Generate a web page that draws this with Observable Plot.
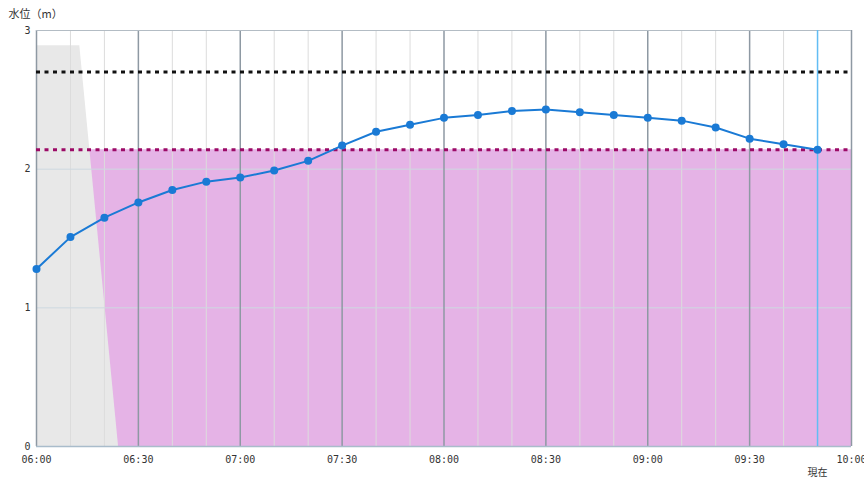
<!DOCTYPE html>
<html>
<head>
<meta charset="utf-8">
<script src="https://cdn.jsdelivr.net/npm/d3@7"></script>
<script src="https://cdn.jsdelivr.net/npm/@observablehq/plot@0.6"></script>
<style>
  html, body { margin: 0; padding: 0; background: #fff; overflow: hidden; }
</style>
</head>
<body>
<div id="chart"></div>
<script>
// ---- data ----
const times = ["06:00","06:10","06:20","06:30","06:40","06:50","07:00","07:10","07:20","07:30","07:40","07:50",
               "08:00","08:10","08:20","08:30","08:40","08:50","09:00","09:10","09:20","09:30","09:40","09:50"];
const levels = [1.28,1.51,1.65,1.76,1.85,1.91,1.94,1.99,2.06,2.17,2.27,2.32,
                2.37,2.39,2.42,2.43,2.41,2.39,2.37,2.35,2.30,2.22,2.18,2.14];
const xDomain = ["06:00","10:00"];
const yTicks = [0, 1, 2, 3];
const majorTickTimes = ["06:00","06:30","07:00","07:30","08:00","08:30","09:00","09:30","10:00"];
const minorTickTimes = ["06:10","06:20","06:40","06:50","07:10","07:20","07:40","07:50","08:10","08:20",
                        "08:40","08:50","09:10","09:20","09:40","09:50"];
const upperLevel = [2.70];   // black dotted line
const warnLevel = [2.14];    // magenta dotted line / pink zone
const grayTimes = ["06:00","06:12:45","06:24:10"];
const grayValues = [2.89, 2.89, 0];
const nowTime = ["09:50"];
const nowLabel = ["現在"];
const yLabel = "水位（m）";

// ---- helpers ----
const parse = s => new Date(`2024-01-01T${s.length === 5 ? s + ":00" : s}Z`);
const series = times.map((t, i) => ({t: parse(t), v: levels[i]}));
const grayData = grayTimes.map((t, i) => ({t: parse(t), v: grayValues[i]}));
const pinkData = warnLevel.map(v => ({x1: parse(xDomain[0]), x2: parse(xDomain[1]), v}));
const fmt = d3.utcFormat("%H:%M");
const mono = "'DejaVu Sans Mono', monospace";
const cjk = "'Noto Sans CJK JP', sans-serif";

const chart = Plot.plot({
  width: 864,
  height: 478,
  marginLeft: 36,
  marginRight: 13,
  marginTop: 30,
  marginBottom: 32,
  style: {fontFamily: mono, fontSize: "10px", color: "#333", background: "#fff"},
  x: {type: "utc", domain: xDomain.map(parse)},
  y: {domain: [0, 3]},
  marks: [
    Plot.rect(pinkData, {x1: "x1", x2: "x2", y1: 0, y2: "v", fill: "#e5b3e6"}),
    Plot.areaY(grayData, {x: "t", y: "v", fill: "#e8e8e8"}),
    Plot.ruleX(minorTickTimes.map(parse), {stroke: "#dcdcdc", strokeWidth: 1}),
    Plot.ruleY(yTicks.filter(v => v > 0 && v < 3), {stroke: "#cdd8e0", strokeWidth: 1}),
    Plot.ruleX(majorTickTimes.map(parse), {stroke: "#8e99a3", strokeWidth: 1.5}),
    Plot.ruleY([0], {stroke: "#a9bccb", strokeWidth: 1.5}),
    Plot.ruleY([3], {stroke: "#b3bcc4", strokeWidth: 1}),
    Plot.ruleY(upperLevel, {stroke: "#111", strokeWidth: 3, strokeDasharray: "4,4.5"}),
    Plot.ruleY(warnLevel, {stroke: "#9c0a66", strokeWidth: 3, strokeDasharray: "4,4.5"}),
    Plot.ruleX(nowTime.map(parse), {stroke: "#62bdf4", strokeWidth: 1.5}),
    Plot.line(series, {x: "t", y: "v", stroke: "#1a7ad5", strokeWidth: 2}),
    Plot.dot(series, {x: "t", y: "v", r: 4, fill: "#1a7ad5", stroke: "none"}),
    Plot.axisY({ticks: yTicks, tickSize: 0, tickPadding: 6, label: null, tickFormat: d => String(d)}),
    Plot.axisX({ticks: majorTickTimes.map(parse), tickSize: 0, tickPadding: 9, label: null, tickFormat: fmt}),
    Plot.text(nowLabel, {x: () => parse(nowTime[0]), frameAnchor: "bottom", dy: 26, text: d => d,
      fontFamily: cjk, fontSize: 10, fill: "#333", lineAnchor: "middle"}),
    Plot.text([yLabel], {frameAnchor: "top-left", dx: -28, dy: -16, text: d => d, textAnchor: "start",
      lineAnchor: "middle", fontFamily: cjk, fontSize: 11, fill: "#333"})
  ]
});
document.getElementById("chart").appendChild(chart);
</script>
</body>
</html>
